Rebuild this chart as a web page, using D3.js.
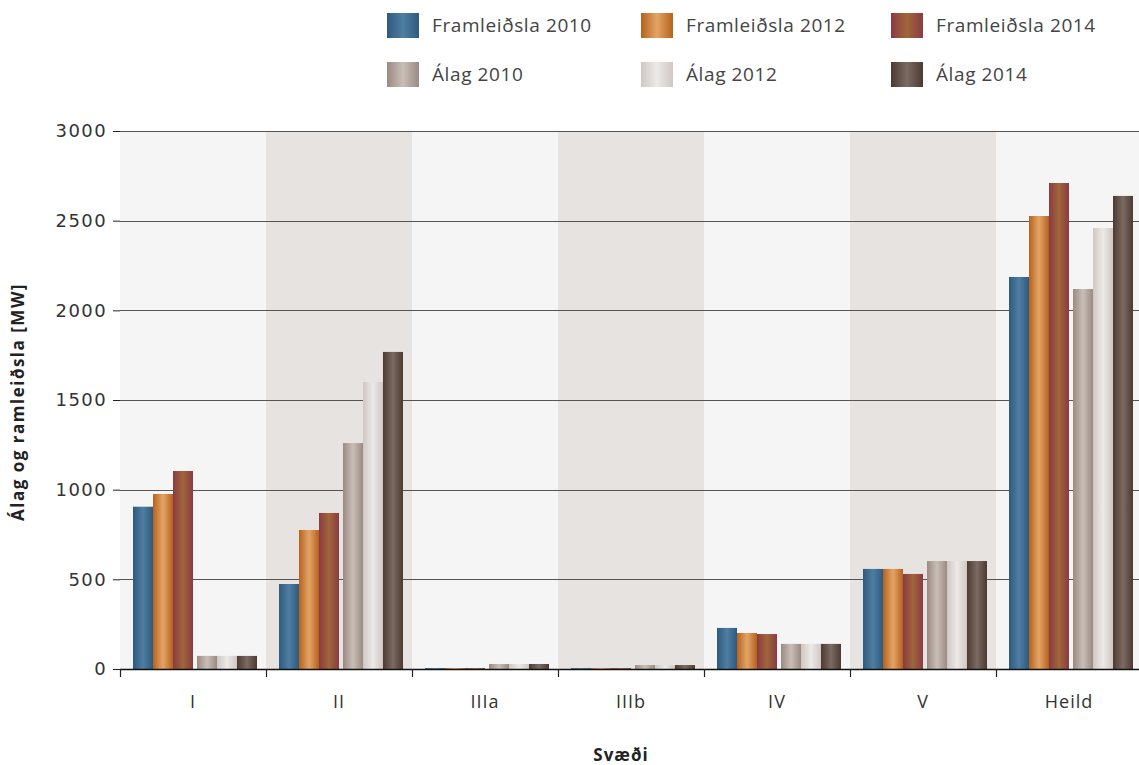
<!DOCTYPE html>
<html>
<head>
<meta charset="utf-8">
<script src="https://cdn.jsdelivr.net/npm/d3@7"></script>
<style>
  html, body { margin: 0; padding: 0; background: #fff; }
  svg { display: block; font-family: "Open Sans", sans-serif; }
</style>
</head>
<body>
<svg id="chart" width="1139" height="765"></svg>
<script>
// Regions (svæði)
const regions = ["I", "II", "IIIa", "IIIb", "IV", "V", "Heild"];

// Series names
const seriesNames = [
  "Framleiðsla 2010", "Framleiðsla 2012", "Framleiðsla 2014",
  "Álag 2010", "Álag 2012", "Álag 2014"
];

// Values in MW, one entry per region
const framleidsla2010 = [905, 474, 5, 5, 229, 558, 2186];
const framleidsla2012 = [976, 775, 5, 5, 201, 558, 2526];
const framleidsla2014 = [1104, 870, 5, 5, 195, 530, 2710];
const alag2010 = [73, 1260, 28, 22, 140, 602, 2119];
const alag2012 = [73, 1600, 28, 22, 140, 602, 2459];
const alag2014 = [73, 1768, 28, 22, 140, 602, 2638];

const yTicks = [0, 500, 1000, 1500, 2000, 2500, 3000];

const seriesValues = [framleidsla2010, framleidsla2012, framleidsla2014, alag2010, alag2012, alag2014];

// Metallic gradient colours: [edge, centre]
const seriesColors = [
  ["#2e5a7c", "#4f7ea3"],
  ["#b5621c", "#e4a468"],
  ["#8b3a44", "#a0673a"],
  ["#9a8a82", "#c9beb7"],
  ["#cfc7c3", "#ece9e7"],
  ["#4c3a31", "#7b6b62"]
];

const svg = d3.select("#chart");
const defs = svg.append("defs");
seriesColors.forEach((c, i) => {
  const g = defs.append("linearGradient")
    .attr("id", "grad" + i)
    .attr("x1", "0%").attr("x2", "100%").attr("y1", "0%").attr("y2", "0%");
  g.append("stop").attr("offset", "0%").attr("stop-color", c[0]);
  g.append("stop").attr("offset", "50%").attr("stop-color", c[1]);
  g.append("stop").attr("offset", "100%").attr("stop-color", c[0]);
});

const margin = { left: 120, top: 131, bottom: 669 };
const plotRight = 1142;

const x = d3.scaleBand().domain(regions).range([margin.left, plotRight]).padding(0);
const y = d3.scaleLinear().domain([0, 3000]).range([margin.bottom, margin.top]);

// Offsets of the six bars inside a region band
const barW = 20;
const groupGap = 4;
const leftPad = 13;
const barX = i => leftPad + i * barW + (i >= 3 ? groupGap : 0);

// Alternating band backgrounds
svg.append("g").selectAll("rect")
  .data(regions)
  .join("rect")
  .attr("x", d => x(d))
  .attr("y", y(3000))
  .attr("width", x.bandwidth())
  .attr("height", y(0) - y(3000))
  .attr("fill", (d, i) => i % 2 === 0 ? "#f5f5f5" : "#e7e3e0");

// Gridlines
svg.append("g").selectAll("line")
  .data(yTicks.filter(t => t > 0))
  .join("line")
  .attr("x1", margin.left).attr("x2", 1139)
  .attr("y1", d => Math.round(y(d)) + 0.5).attr("y2", d => Math.round(y(d)) + 0.5)
  .attr("stroke", "#555").attr("stroke-width", 1.2);

// Bars
const barData = [];
regions.forEach((r, ri) => {
  seriesValues.forEach((vals, si) => {
    barData.push({ region: r, series: si, value: vals[ri] });
  });
});
svg.append("g").selectAll("rect")
  .data(barData)
  .join("rect")
  .attr("x", d => x(d.region) + barX(d.series))
  .attr("y", d => y(d.value))
  .attr("width", barW)
  .attr("height", d => y(0) - y(d.value))
  .attr("fill", d => `url(#grad${d.series})`);

// Y axis (ticks and labels, no domain line)
const yAxis = svg.append("g")
  .attr("transform", `translate(${margin.left},0)`)
  .call(d3.axisLeft(y).tickValues(yTicks).tickSize(7).tickPadding(6).tickFormat(d3.format("d")));
yAxis.select(".domain").remove();
yAxis.selectAll(".tick line").attr("stroke", "#222");
yAxis.selectAll("text")
  .attr("fill", "#333")
  .attr("font-family", "'DejaVu Sans', sans-serif")
  .style("font-size", "18px")
  .style("letter-spacing", "1.4px");

// X axis with ticks at the band edges
const xAxis = svg.append("g").attr("transform", `translate(0,${margin.bottom})`);
xAxis.append("line")
  .attr("x1", margin.left).attr("x2", 1139)
  .attr("y1", 0.5).attr("y2", 0.5)
  .attr("stroke", "#111").attr("stroke-width", 1.5);
xAxis.selectAll("line.tk")
  .data(regions)
  .join("line")
  .attr("class", "tk")
  .attr("x1", d => x(d) + 0.5).attr("x2", d => x(d) + 0.5)
  .attr("y1", 0).attr("y2", 8)
  .attr("stroke", "#222").attr("stroke-width", 1.2);
xAxis.selectAll("text")
  .data(regions)
  .join("text")
  .attr("x", d => x(d) + x.bandwidth() / 2)
  .attr("y", 39)
  .attr("text-anchor", "middle")
  .attr("font-size", 18)
  .style("letter-spacing", "1px")
  .attr("fill", "#333")
  .text(d => d);

// Axis titles
svg.append("text")
  .attr("x", 621).attr("y", 761)
  .attr("text-anchor", "middle")
  .attr("font-size", 17).attr("font-weight", "bold").attr("fill", "#222")
  .style("letter-spacing", "1px")
  .text("Svæði");
svg.append("text")
  .attr("transform", "translate(24,402) rotate(-90)")
  .attr("text-anchor", "middle")
  .attr("font-size", 17).attr("font-weight", "bold").attr("fill", "#222")
  .style("letter-spacing", "1.5px")
  .text("Álag og ramleiðsla [MW]");

// Legend: three columns, two rows
const legendCols = [387, 641, 891];
const legendRows = [13, 62];
const legend = svg.append("g").selectAll("g")
  .data(seriesNames)
  .join("g")
  .attr("transform", (d, i) => `translate(${legendCols[i % 3]},${legendRows[Math.floor(i / 3)]})`);
legend.append("rect")
  .attr("width", 32).attr("height", 25)
  .attr("fill", (d, i) => `url(#grad${i})`);
legend.append("text")
  .attr("x", 45).attr("y", 19)
  .attr("font-size", 19).attr("fill", "#444")
  .style("letter-spacing", "0.6px")
  .text(d => d);
</script>
</body>
</html>
